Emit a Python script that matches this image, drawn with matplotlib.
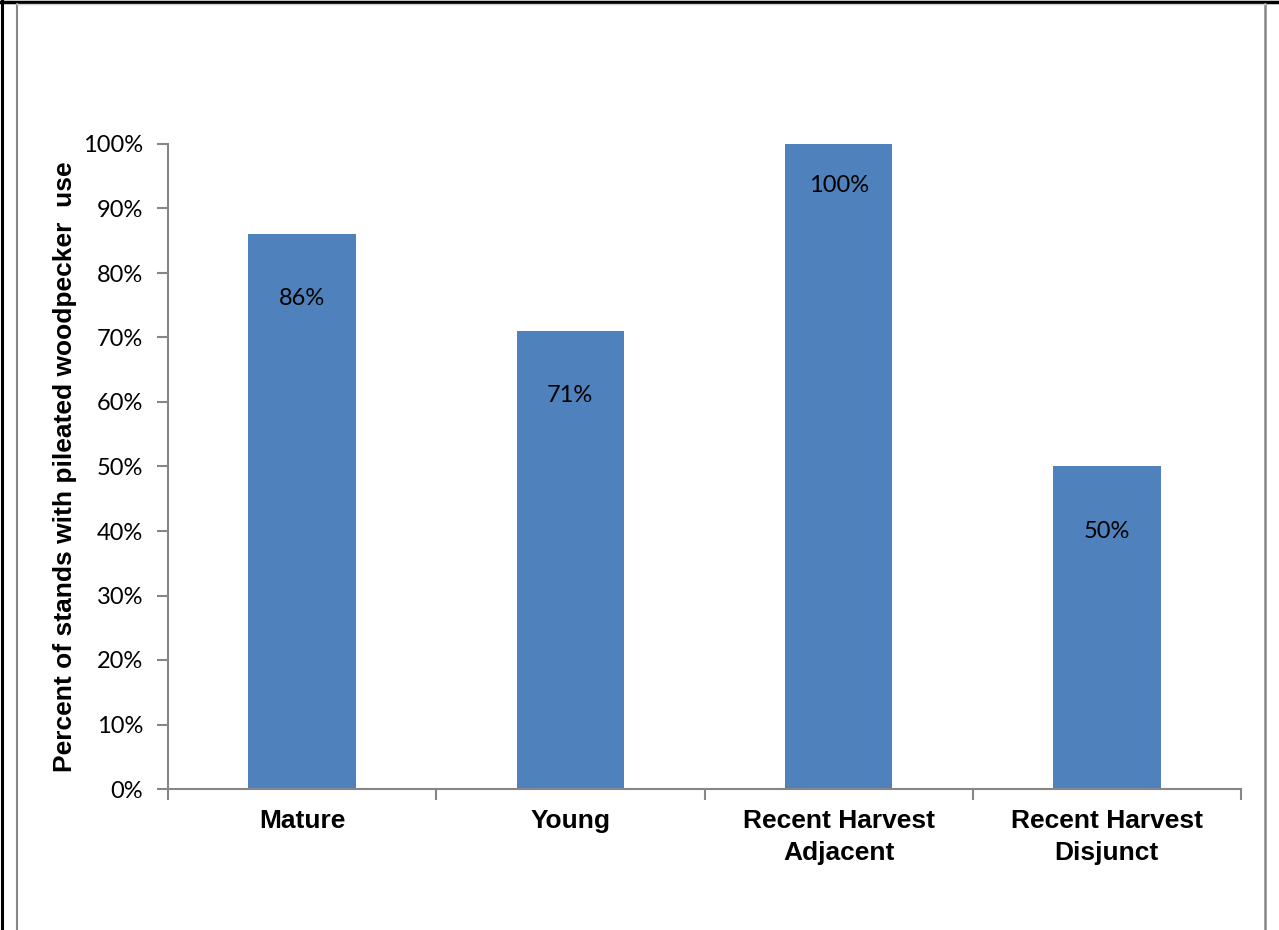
import matplotlib

matplotlib.use("Agg")
import matplotlib.pyplot as plt
from matplotlib.lines import Line2D
from matplotlib.ticker import MultipleLocator, PercentFormatter

# --- data -------------------------------------------------------------------
categories = ["Mature", "Young", "Recent Harvest\nAdjacent", "Recent Harvest\nDisjunct"]
pct_use = [86, 71, 100, 50]
value_labels = ["86%", "71%", "100%", "50%"]

BAR = "#4F81BD"
AXIS = "#868686"
TICK_FONT = ["Lato", "DejaVu Sans"]
BOLD_FONT = ["Liberation Sans", "DejaVu Sans"]

W, H = 1279, 930
fig = plt.figure(figsize=(W / 100, H / 100), dpi=100)
ax = fig.add_axes([168 / W, 1 - 789 / H, (1241 - 168) / W, (789 - 144) / H])

x = range(len(categories))
ax.bar(x, pct_use, width=0.4, color=BAR, zorder=2)

# labels sit just inside the top of each bar
for i, (v, lab) in enumerate(zip(pct_use, value_labels)):
    drop = 6.5 if v >= 100 else 10.0
    ax.text(i, v - drop, lab, ha="center", va="center", fontsize=17,
            family=TICK_FONT, color="black")

ax.set_xlim(-0.5, len(categories) - 0.5)
ax.set_ylim(0, 100)
ax.yaxis.set_major_locator(MultipleLocator(10))
ax.yaxis.set_major_formatter(PercentFormatter(decimals=0))
for t in ax.get_yticklabels():
    t.set_family(TICK_FONT)
    t.set_fontsize(17)

# category boundary ticks below the axis, labels centred under bars
ax.set_xticks([i - 0.5 for i in range(len(categories) + 1)])
ax.set_xticklabels([])
ax.set_xticks(list(x), minor=True)
ax.set_xticklabels(categories, minor=True, fontsize=19, fontweight="bold",
                   family=BOLD_FONT, linespacing=1.4)
ax.tick_params(axis="x", which="minor", length=0, pad=14.5)
ax.tick_params(axis="x", which="major", length=8, width=1.5, color=AXIS, direction="out")
ax.tick_params(axis="y", length=8, width=1.5, color=AXIS, direction="out", pad=10)

for side in ("top", "right"):
    ax.spines[side].set_visible(False)
for side in ("left", "bottom"):
    ax.spines[side].set_color(AXIS)
    ax.spines[side].set_linewidth(1.5)

ax.set_ylabel("Percent of stands with pileated woodpecker  use", fontsize=19,
              fontweight="bold", family=BOLD_FONT, labelpad=4)

# outer page frame (black) and chart-area frame (grey)
fig.add_artist(Line2D([2 / W, 2 / W], [0, 1 - 1 / H], color="black", lw=2.2))
fig.add_artist(Line2D([0, 1], [1 - 2 / H, 1 - 2 / H], color="black", lw=2.5))
fig.add_artist(Line2D([16.5 / W, 16.5 / W], [0, 1 - 4 / H], color=AXIS, lw=1.5))
fig.add_artist(Line2D([1265 / W, 1265 / W], [0, 1 - 4 / H], color=AXIS, lw=1.8))
fig.add_artist(Line2D([16.5 / W, 1265 / W], [1 - 4.5 / H, 1 - 4.5 / H], color="#d0d0d0", lw=1))

fig.savefig("out.png", dpi=100, facecolor="white")
